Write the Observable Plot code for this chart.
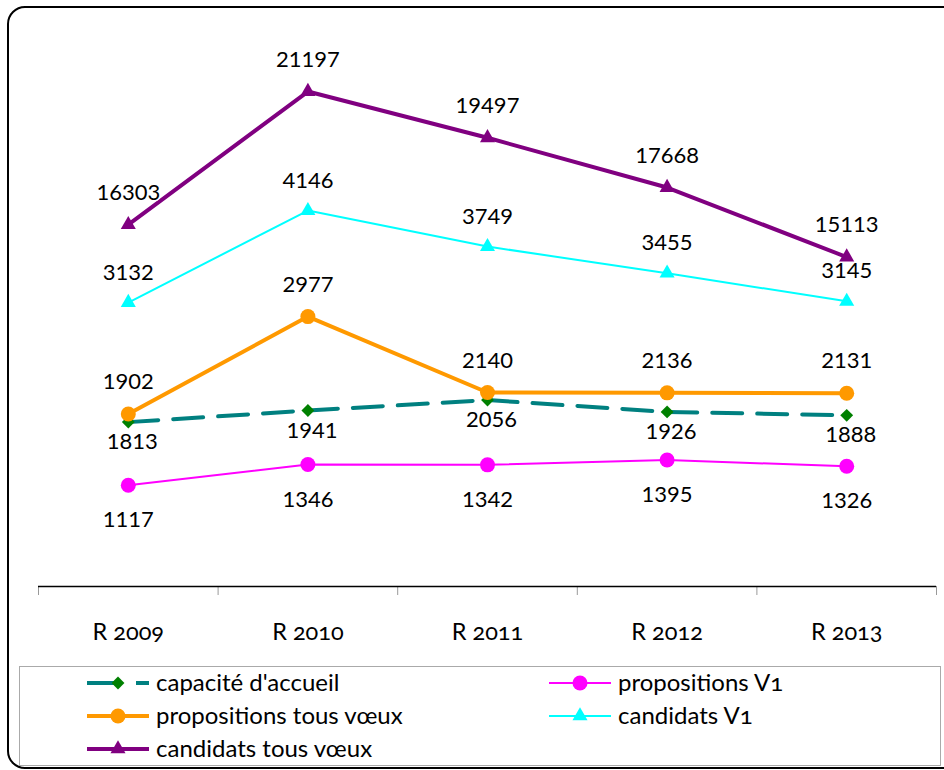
<!DOCTYPE html>
<html><head><meta charset="utf-8">
<script src="https://cdn.jsdelivr.net/npm/d3@7"></script>
<script src="https://cdn.jsdelivr.net/npm/@observablehq/plot@0.6"></script>
<style>
html,body{margin:0;padding:0;background:#fff;width:944px;height:770px;overflow:hidden;position:relative;}
#frame{position:absolute;left:7px;top:6px;width:990px;height:763px;border:2px solid #000;border-radius:18px;box-sizing:border-box;}
#chart{position:absolute;left:0;top:0;width:944px;height:660px;}
#chart svg{position:absolute;left:0;top:0;}
#legend{position:absolute;left:19px;top:666px;width:922px;height:100px;border:1px solid #aaa;box-sizing:border-box;background:#fff;}
</style></head><body>
<div id="frame"></div>
<div id="chart"></div>
<div id="legend"></div>
<script>
// ---- data ----
const categories = ["R 2009", "R 2010", "R 2011", "R 2012", "R 2013"];
const capaciteAccueil = [1813, 1941, 2056, 1926, 1888];
const propositionsV1 = [1117, 1346, 1342, 1395, 1326];
const propositionsTous = [1902, 2977, 2140, 2136, 2131];
const candidatsV1 = [3132, 4146, 3749, 3455, 3145];
const candidatsTous = [16303, 21197, 19497, 17668, 15113]; // secondary axis
const primaryDomain = [0, 6000];
const secondaryDomain = [3000, 23000];

// ---- styles ----
const series = [
  {name: "capacité d'accueil", values: capaciteAccueil, stroke: "#008080", marker: "#008000", width: 4, dash: "30,15", symbol: "diamond2", r: 5.8, labelDy: 20, labelDx: 4},
  {name: "propositions V1", values: propositionsV1, stroke: "#FF00FF", marker: "#FF00FF", width: 2, dash: null, symbol: "circle", r: 7.5, labelDy: 35, labelDx: 0},
  {name: "propositions tous vœux", values: propositionsTous, stroke: "#FF9900", marker: "#FF9900", width: 4, dash: null, symbol: "circle", r: 7.5, labelDy: -32, labelDx: 0},
  {name: "candidats V1", values: candidatsV1, stroke: "#00FFFF", marker: "#00FFFF", width: 2, dash: null, symbol: "triangle", r: 5.6, labelDy: -30, labelDx: 0},
  {name: "candidats tous vœux", values: candidatsTous, stroke: "#800080", marker: "#800080", width: 4, dash: null, symbol: "triangle", r: 5.6, labelDy: -32, labelDx: 0}
];
const rows = s => s.values.map((v, i) => ({i, v}));

const W = 944, H = 660, mT = 42, mB = 74, mL = 38, mR = 8;
const xDomain = [-0.5, categories.length - 0.5];
const boundaries = d3.range(categories.length + 1).map(i => i - 0.5);
const FONT = "Lato, 'Open Sans', sans-serif";

function seriesMarks(s) {
  const d = rows(s);
  return [
    Plot.line(d, {x: "i", y: "v", stroke: s.stroke, strokeWidth: s.width, strokeDasharray: s.dash || undefined, strokeLinejoin: "round"}),
    Plot.dot(d, {x: "i", y: "v", symbol: () => s.symbol, r: s.r, fill: s.marker, stroke: "none"})
  ];
}
function labelMarks(s) {
  return Plot.text(rows(s), {x: "i", y: "v", text: d => String(d.v), dy: s.labelDy, dx: s.labelDx,
    fontSize: 22, fontFamily: FONT, fill: "#000", stroke: "white", strokeWidth: 3});
}

const primary = series.slice(0, 4);
const secondary = series.slice(4);

const p1 = Plot.plot({
  width: W, height: H, marginTop: mT, marginBottom: mB, marginLeft: mL, marginRight: mR,
  style: {background: "transparent", overflow: "visible"},
  x: {domain: xDomain, axis: null},
  y: {domain: primaryDomain, axis: null},
  symbol: {type: "identity"},
  marks: [
    Plot.axisX(boundaries, {tickSize: 9, stroke: "#999", tickFormat: () => "", anchor: "bottom", label: null}),
    Plot.axisX(d3.range(categories.length), {tickSize: 0, tickPadding: 37, tickFormat: i => categories[i], anchor: "bottom",
      label: null, fontSize: 23.5, fontFamily: FONT, fill: "#000"}),
    Plot.ruleY([0], {stroke: "#000", strokeWidth: 1.3}),
    ...primary.flatMap(seriesMarks),
    ...primary.map(labelMarks)
  ]
});
d3.select(p1).selectAll('g[aria-label="x-axis tick label"] text').style("font-variant-numeric", "oldstyle-nums");

const p2 = Plot.plot({
  width: W, height: H, marginTop: mT, marginBottom: mB, marginLeft: mL, marginRight: mR,
  style: {background: "transparent", overflow: "visible"},
  x: {domain: xDomain, axis: null},
  y: {domain: secondaryDomain, axis: null},
  symbol: {type: "identity"},
  marks: [
    ...secondary.flatMap(seriesMarks),
    ...secondary.map(labelMarks)
  ]
});
const chart = document.getElementById("chart");
chart.appendChild(p1);
chart.appendChild(p2);

// ---- legend ----
const legendOrder = [
  {s: series[0], col: 0, row: 0},
  {s: series[1], col: 1, row: 0},
  {s: series[2], col: 0, row: 1},
  {s: series[3], col: 1, row: 1},
  {s: series[4], col: 0, row: 2}
];
const lg = d3.select("#legend").append("svg").attr("width", 920).attr("height", 98)
  .style("position", "absolute").style("left", "0").style("top", "0");
const colX = [67, 529];      // swatch start (relative to legend box)
const rowY = [16, 49, 82];
const symMap = {circle: d3.symbolCircle, triangle: d3.symbolTriangle, diamond2: d3.symbolDiamond2};
legendOrder.forEach(({s, col, row}) => {
  const x0 = colX[col], y = rowY[row];
  const g = lg.append("g").attr("transform", `translate(${x0},${y})`);
  g.append("line").attr("x1", 0).attr("x2", 62).attr("y1", 0).attr("y2", 0)
    .attr("stroke", s.stroke).attr("stroke-width", s.width)
    .attr("stroke-dasharray", s.dash ? "30,19" : null);
  g.append("path").attr("transform", "translate(31,0)")
    .attr("d", d3.symbol(symMap[s.symbol], Math.PI * s.r * s.r)())
    .attr("fill", s.marker);
  g.append("text").attr("x", 69).attr("y", 0).attr("dy", "0.35em")
    .attr("font-family", FONT).attr("font-size", 24).attr("fill", "#000")
    .style("font-variant-numeric", "oldstyle-nums")
    .text(s.name);
});
</script>
</body></html>
